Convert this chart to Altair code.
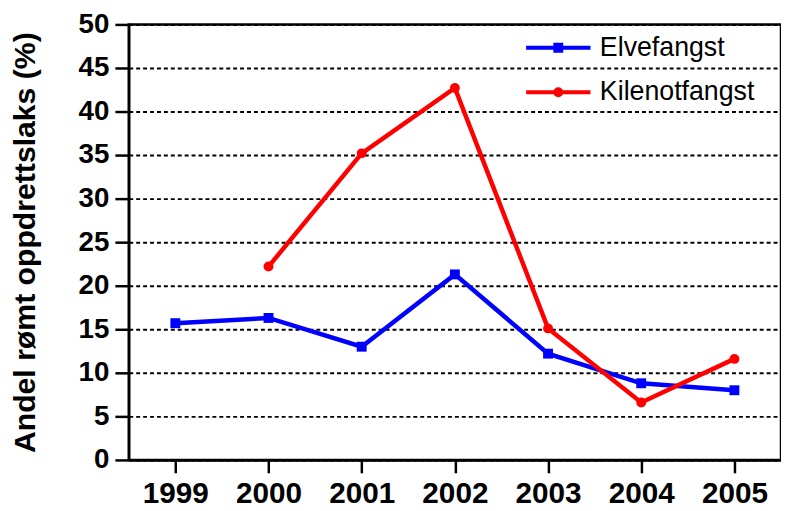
import altair as alt
import pandas as pd

years = [1999, 2000, 2001, 2002, 2003, 2004, 2005]
series = ["Elvefangst", "Kilenotfangst"]
elvefangst = [15.7, 16.3, 13.0, 21.3, 12.2, 8.8, 8.0]
kilenotfangst = [None, 22.2, 35.2, 42.7, 15.1, 6.6, 11.6]
colors = ["#0000ff", "#ff0000"]
marker_shapes = ["square", "circle"]
y_ticks = [0, 5, 10, 15, 20, 25, 30, 35, 40, 45, 50]

rows = []
for yr, v in zip(years, elvefangst):
    rows.append({"year": yr, "value": v, "series": series[0]})
for yr, v in zip(years, kilenotfangst):
    if v is not None:
        rows.append({"year": yr, "value": v, "series": series[1]})
df = pd.DataFrame(rows)
legend_df = pd.DataFrame({"series": series})

FONT = "Liberation Sans"

x_enc = alt.X(
    "year:Q",
    scale=alt.Scale(domain=[1998.5, 2005.5], nice=False, zero=False),
    axis=alt.Axis(
        values=years, format="d", title=None, grid=False,
        labelFont=FONT, labelFontSize=30, labelFontWeight="bold", labelColor="black",
        tickSize=13, tickWidth=2.5, tickColor="black",
        domainColor="black", domainWidth=2.5, labelPadding=6, labelFlush=False,
    ),
)
y_enc = alt.Y(
    "value:Q",
    scale=alt.Scale(domain=[0, 50], nice=False),
    axis=alt.Axis(
        values=y_ticks, title="Andel rømt oppdrettslaks (%)",
        labelFont=FONT, labelFontSize=28, labelFontWeight="bold", labelColor="black",
        tickSize=14, tickWidth=2.5, tickColor="black", labelPadding=6,
        domainColor="black", domainWidth=2.5,
        grid=True, gridColor="black", gridWidth=2, gridDash=[4, 3],
        titleFont=FONT, titleFontSize=30.5, titleFontWeight="bold", titleColor="black",
        titleX=-89, titleY=220, titleAngle=270, titleBaseline="bottom", titleAlign="center",
    ),
)

layers = []
for name, col, shp in zip(series, colors, marker_shapes):
    b = alt.Chart(df).transform_filter(alt.datum.series == name).encode(x=x_enc, y=y_enc)
    layers.append(b.mark_line(strokeWidth=4.5, color=col))
    layers.append(b.mark_point(shape=shp, filled=True, size=100, opacity=1, color=col))

sq_path = "M-5.5,0H1M-2.75,-0.3H-1.75M-2.75,0H-1.75M-2.75,0.3H-1.75"
ci_path = ("M-5.5,0H1M-2.55,0A0.3,0.3,0,1,0,-1.95,0A0.3,0.3,0,1,0,-2.55,0Z"
           "M-2.35,0A0.1,0.1,0,1,0,-2.15,0A0.1,0.1,0,1,0,-2.35,0Z")

leg = alt.Legend(
    title=None, orient="none", legendX=443, legendY=10,
    labelFont=FONT, labelFontSize=27, labelColor="black", labelOffset=6,
    symbolSize=400, symbolStrokeWidth=4, symbolOpacity=1, rowPadding=17,
    padding=0,
)

legend_layer = alt.Chart(legend_df).transform_filter("false").mark_point(
    filled=False, size=400, opacity=1, strokeWidth=4
).encode(
    x=alt.X("year:Q"), y=alt.Y("value:Q"),
    color=alt.Color("series:N", scale=alt.Scale(domain=series, range=colors), legend=leg),
    shape=alt.Shape("series:N", scale=alt.Scale(domain=series, range=[sq_path, ci_path]), legend=leg),
)
layers.append(legend_layer)

chart = alt.layer(*layers).properties(
    width=659, height=440,
    autosize=alt.AutoSizeParams(type="none"),
    padding={"left": 122, "top": 14, "right": 0, "bottom": 49},
    background="white",
).configure_view(stroke="black", strokeWidth=2.5)

chart.save("out.html", embed_options={"renderer": "svg", "actions": False})
